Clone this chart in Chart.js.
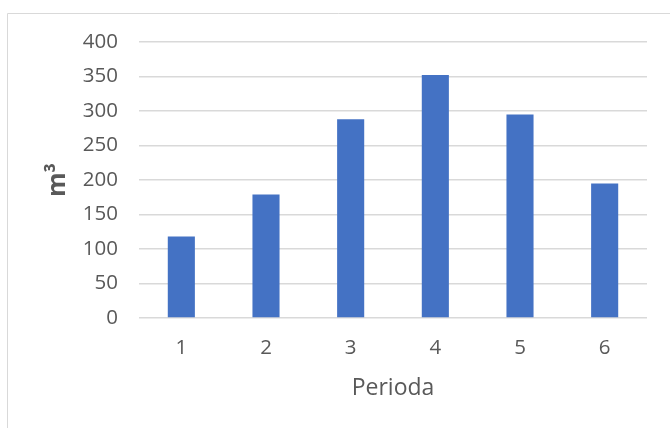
<!DOCTYPE html>
<html>
<head>
<meta charset="utf-8">
<script src="https://cdn.jsdelivr.net/npm/chart.js@4.4.1/dist/chart.umd.min.js"></script>
<style>
  html, body { margin: 0; padding: 0; background: #ffffff; }
  #wrap { width: 670px; height: 428px; position: relative; }
</style>
</head>
<body>
<div id="wrap"><canvas id="periodChart" width="670" height="428"></canvas></div>
<script>
// chart data
var periods = ['1', '2', '3', '4', '5', '6'];
var volumes = [118, 179, 288, 352, 295, 195];
var yTicks = [0, 50, 100, 150, 200, 250, 300, 350, 400];

var textColor = '#595959';
var gridColor = '#d9d9d9';
var fontFamily = '"Open Sans", "Liberation Sans", sans-serif';

// light frame around the chart (left and top edges visible)
var framePlugin = {
  id: 'frame',
  beforeDraw: function (chart) {
    var ctx = chart.ctx;
    ctx.save();
    ctx.strokeStyle = '#d9d9d9';
    ctx.lineWidth = 1;
    ctx.beginPath();
    ctx.moveTo(7.5, chart.height);
    ctx.lineTo(7.5, 13.5);
    ctx.lineTo(chart.width, 13.5);
    ctx.stroke();
    ctx.restore();
  }
};

var ctx = document.getElementById('periodChart').getContext('2d');
var periodChart = new Chart(ctx, {
  type: 'bar',
  data: {
    labels: periods,
    datasets: [{
      label: 'm3',
      data: volumes,
      backgroundColor: '#4472c4',
      borderWidth: 0,
      categoryPercentage: 1,
      barPercentage: 0.32
    }]
  },
  options: {
    responsive: false,
    animation: false,
    layout: {
      padding: { left: 38, right: 23, top: 42, bottom: 0 }
    },
    plugins: {
      legend: { display: false },
      tooltip: { enabled: false }
    },
    scales: {
      x: {
        grid: { display: false, drawTicks: false },
        border: { display: false },
        ticks: {
          color: textColor,
          font: { family: fontFamily, size: 20.5 },
          padding: 18
        },
        title: {
          display: true,
          text: 'Perioda',
          color: textColor,
          font: { family: fontFamily, size: 23 },
          padding: { top: 0, bottom: 26 }
        },
        afterFit: function (scale) {
          scale.height = 110;
        }
      },
      y: {
        min: 0,
        max: 400,
        afterBuildTicks: function (scale) {
          scale.ticks = yTicks.map(function (v) { return { value: v }; });
        },
        grid: {
          color: gridColor,
          lineWidth: 1.5,
          drawTicks: false
        },
        border: { display: false },
        ticks: {
          color: textColor,
          font: { family: fontFamily, size: 20.5 },
          padding: 21
        },
        title: {
          display: true,
          text: 'm³',
          color: textColor,
          font: { family: fontFamily, size: 25, weight: 'bold' },
          padding: { top: 5, bottom: 0 }
        },
        afterFit: function (scale) {
          scale.width = 101;
        }
      }
    }
  },
  plugins: [framePlugin]
});
</script>
</body>
</html>
